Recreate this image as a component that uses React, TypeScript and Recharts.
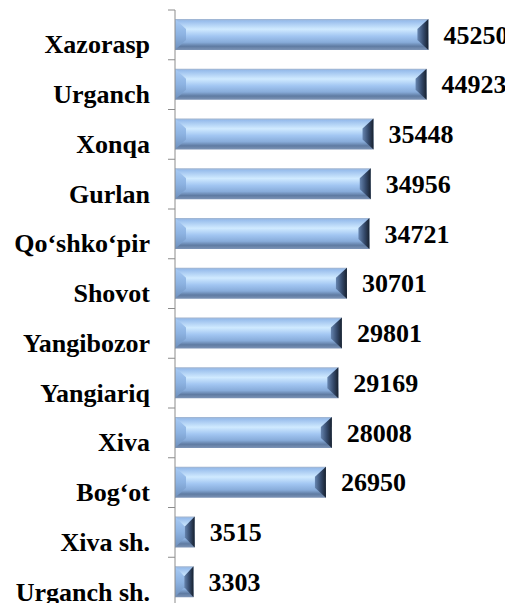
import { BarChart, Bar, XAxis, YAxis, LabelList } from 'recharts';

const districts = [
  'Xazorasp',
  'Urganch',
  'Xonqa',
  'Gurlan',
  'Qo‘shko‘pir',
  'Shovot',
  'Yangibozor',
  'Yangiariq',
  'Xiva',
  'Bog‘ot',
  'Xiva sh.',
  'Urganch sh.',
];

const counts = [45250, 44923, 35448, 34956, 34721, 30701, 29801, 29169, 28008, 26950, 3515, 3303];

const data = districts.map((name, i) => ({ name, value: counts[i] }));

const CHART_W = 505;
const CHART_H = 600;
const MARGIN = { top: 2, right: 58, bottom: 1, left: 0 };
const BAND = (CHART_H - MARGIN.top - MARGIN.bottom) / districts.length;
const FONT = "'Liberation Serif', 'Times New Roman', serif";
const TICK_MARGIN = 18;
const TICK_LEN = 7;

const labelStyle = { fontFamily: FONT, fontSize: 26, fontWeight: 700, fill: '#000' };

function DistrictTick(props: any) {
  const { x, y, payload, index } = props;
  const axisX = x + TICK_MARGIN + TICK_LEN;
  const top = y - BAND / 2;
  return (
    <g>
      <line x1={axisX - TICK_LEN} x2={axisX} y1={top} y2={top} stroke="#8c8c8c" />
      {index === districts.length - 1 && (
        <line x1={axisX - TICK_LEN} x2={axisX} y1={top + BAND} y2={top + BAND} stroke="#8c8c8c" />
      )}
      <text x={x} y={y} dy={18.5} textAnchor="end" style={labelStyle}>
        {payload.value}
      </text>
    </g>
  );
}

// beveled "button" bar: gradient face plus slanted end caps
function BevelBar(props: any) {
  const { x, y, width, height } = props;
  if (!width || width <= 0) return null;
  const b = Math.min(11, width / 2);
  const t = Math.min(10, height / 3);
  const r = x + width;
  return (
    <g>
      <rect x={x} y={y} width={width} height={height} fill="url(#barFace)" />
      <polygon
        points={`${x},${y} ${x + b},${y + t} ${x + b},${y + height - t} ${x},${y + height}`}
        fill="url(#barLeft)"
      />
      <polygon
        points={`${r},${y} ${r - b},${y + t} ${r - b},${y + height - t} ${r},${y + height}`}
        fill="url(#barRight)"
      />
    </g>
  );
}

export default function App() {
  return (
    <BarChart
      width={CHART_W}
      height={CHART_H}
      data={data}
      layout="vertical"
      margin={MARGIN}
      style={{ fontFamily: FONT }}
    >
      <defs>
        <linearGradient id="barFace" x1="0" y1="0" x2="0" y2="1">
          <stop offset="0%" stopColor="#a3b4cc" />
          <stop offset="6%" stopColor="#98bdec" />
          <stop offset="33%" stopColor="#d0eaff" />
          <stop offset="55%" stopColor="#a2c6f2" />
          <stop offset="75%" stopColor="#88acda" />
          <stop offset="88%" stopColor="#5f7ba2" />
          <stop offset="100%" stopColor="#7d94b6" />
        </linearGradient>
        <linearGradient id="barLeft" x1="0" y1="0" x2="0" y2="1">
          <stop offset="0%" stopColor="#a8cbf5" />
          <stop offset="50%" stopColor="#8db3e2" />
          <stop offset="100%" stopColor="#6e90bd" />
        </linearGradient>
        <linearGradient id="barRight" x1="0" y1="0" x2="1" y2="0">
          <stop offset="0%" stopColor="#6685b0" />
          <stop offset="55%" stopColor="#34496a" />
          <stop offset="100%" stopColor="#18212e" />
        </linearGradient>
      </defs>
      <XAxis type="number" domain={[0, 50000]} hide />
      <YAxis
        type="category"
        dataKey="name"
        width={167}
        axisLine={{ stroke: '#8c8c8c' }}
        tickLine={false}
        tickSize={TICK_LEN}
        tickMargin={TICK_MARGIN}
        interval={0}
        tick={<DistrictTick />}
      />
      <Bar dataKey="value" barSize={31} shape={<BevelBar />} isAnimationActive={false}>
        <LabelList dataKey="value" position="right" offset={15} style={labelStyle} />
      </Bar>
    </BarChart>
  );
}
